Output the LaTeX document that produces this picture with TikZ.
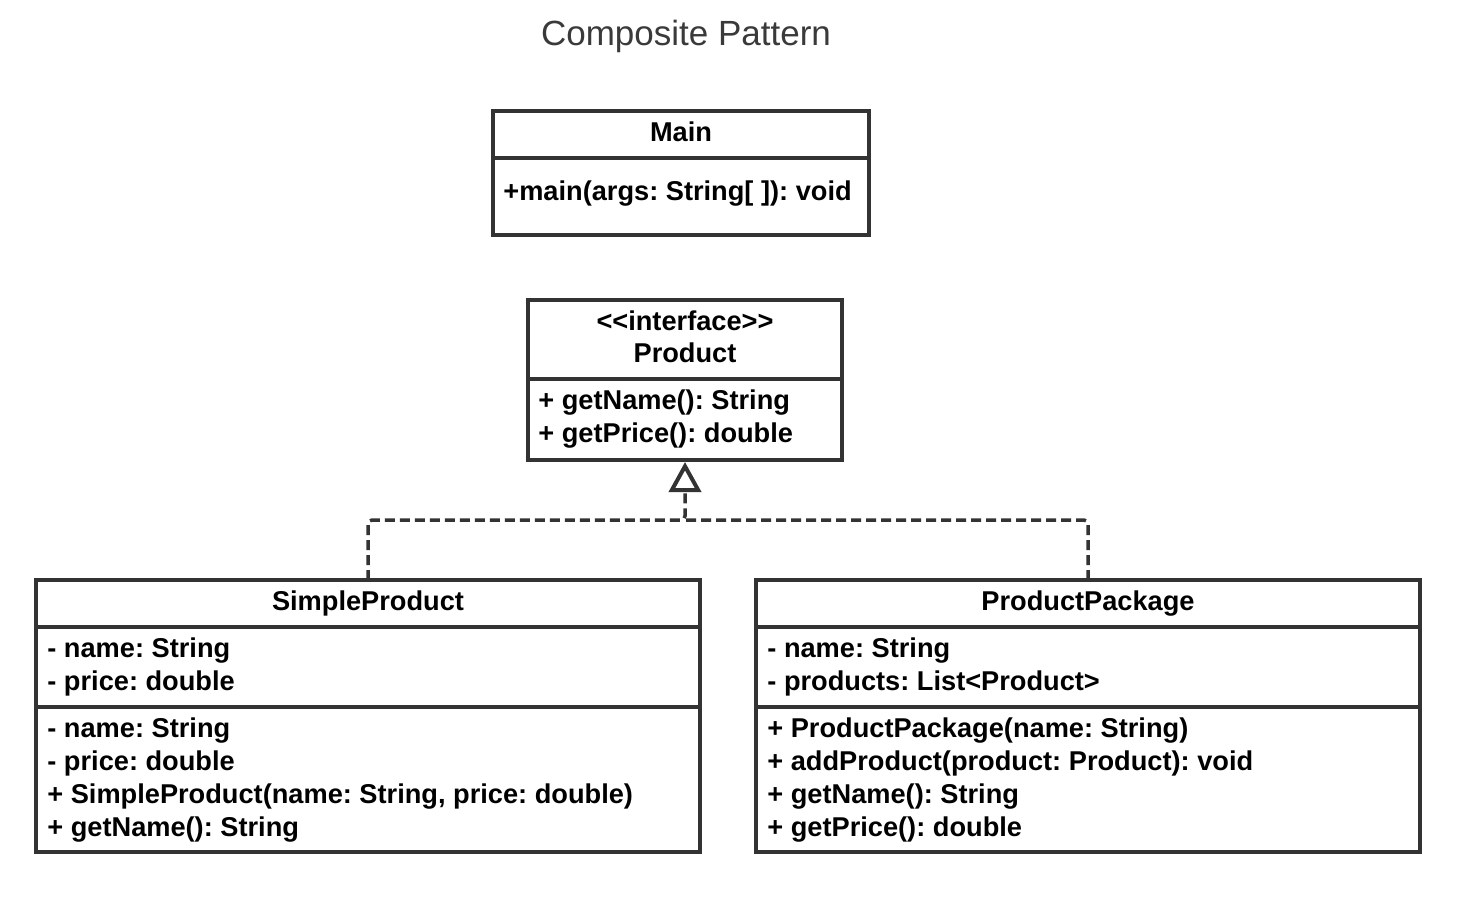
\documentclass[tikz,border=0pt]{standalone}
\usepackage{fontspec}
\setmainfont{Liberation Sans}
\usetikzlibrary{arrows.meta,positioning,calc}
\definecolor{umlline}{HTML}{333333}
\definecolor{umltitle}{HTML}{3A3A3A}
\frenchspacing

\begin{document}
\begin{tikzpicture}[x=0.5pt,y=-0.5pt,
  classbox/.style={draw=umlline, line width=1.75pt, fill=white, inner sep=0pt, outer sep=0pt, anchor=north west},
  divider/.style={draw=umlline, line width=1.75pt},
  head/.style={anchor=base, inner sep=0pt, font=\fontsize{13.6}{16}\selectfont\bfseries},
  member/.style={anchor=base west, inner sep=0pt, font=\fontsize{13.6}{16}\selectfont\bfseries},
  realize/.style={draw=umlline, line width=1.75pt, dash pattern=on 5pt off 2.5pt, rounded corners=2pt}]
  \useasboundingbox (0,0) rectangle (1483,902);
  %
  \node[anchor=base, inner sep=0pt, text=umltitle, font=\fontsize{17.5}{21}\selectfont] (title) at (686,45) {Composite Pattern};
  %
  % Main
  \node[classbox, minimum width=188pt, minimum height=62pt] (main) at (493,111) {};
  \draw[divider] (493,158) -- (869,158);
  \node[head] (mainname) at (681,141) {Main};
  \node[member] (mainop) at (503,200) {+main(args: String[ ]): void};
  %
  % Product
  \node[classbox, minimum width=157pt, minimum height=80pt] (prod) at (528,300) {};
  \draw[divider] (528,379) -- (842,379);
  \node[head] (prodstereo) at (685,330) {<\kern0pt<interface>\kern0pt>};
  \node[head] (prodname) at (685,362) {Product};
  \node[member] (prodop1) at (538,409) {+ getName(): String};
  \node[member] (prodop2) at (538,442) {+ getPrice(): double};
  %
  % SimpleProduct
  \node[classbox, minimum width=332pt, minimum height=136pt] (simple) at (36,580) {};
  \draw[divider] (36,627) -- (700,627);
  \draw[divider] (36,707) -- (700,707);
  \node[head] (simplename) at (368,610) {SimpleProduct};
  \node[member] (simpleatt1) at (47,657) {- name: String};
  \node[member] (simpleatt2) at (47,690) {- price: double};
  \node[member] (simpleop1) at (47,737) {- name: String};
  \node[member] (simpleop2) at (47,770) {- price: double};
  \node[member] (simpleop3) at (47,803) {+ SimpleProduct(name: String, price: double)};
  \node[member] (simpleop4) at (47,836) {+ getName(): String};
  %
  % ProductPackage
  \node[classbox, minimum width=332pt, minimum height=136pt] (pkg) at (756,580) {};
  \draw[divider] (756,627) -- (1420,627);
  \draw[divider] (756,707) -- (1420,707);
  \node[head] (pkgname) at (1088,610) {ProductPackage};
  \node[member] (pkgatt1) at (767,657) {- name: String};
  \node[member] (pkgatt2) at (767,690) {- products: List<Product>};
  \node[member] (pkgop1) at (767,737) {+ ProductPackage(name: String)};
  \node[member] (pkgop2) at (767,770) {+ addProduct(product: Product): void};
  \node[member] (pkgop3) at (767,803) {+ getName(): String};
  \node[member] (pkgop4) at (767,836) {+ getPrice(): double};
  %
  % realization
  \coordinate (join) at (685,520);
  \draw[realize, -{Triangle[open, length=15pt, width=16pt, line width=2pt]}, shorten >=1pt] (simple.north) |- (join) -- (prod.south);
  \draw[realize] (pkg.north) |- (join);
  %
\end{tikzpicture}
\end{document}
